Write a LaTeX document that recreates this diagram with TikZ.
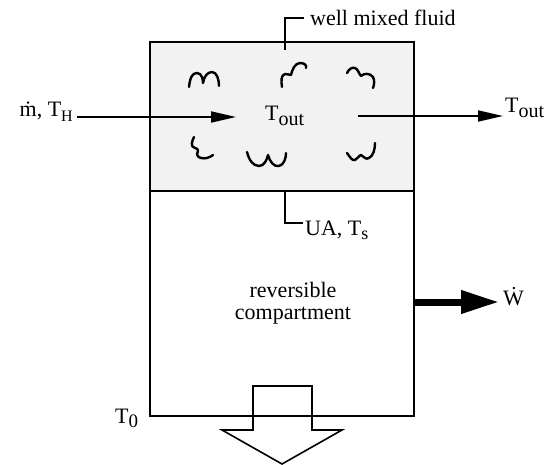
\documentclass[tikz,border=0pt]{standalone}
\usepackage{fontspec}
\setmainfont{Liberation Serif}
\usetikzlibrary{arrows.meta}
\newcommand\sbs[2][18]{\raisebox{-0.4ex}{\fontsize{#1}{#1}\selectfont #2}}
\definecolor{shade}{gray}{0.95}
\tikzset{
  lbl/.style={inner sep=0pt, font=\fontsize{22}{22}\selectfont},
  wall/.style={draw=black, line width=1.8pt},
  flow/.style={line width=1.8pt, -{Triangle[length=25pt,width=11pt]}},
  work/.style={line width=7pt, -{Triangle[length=38pt,width=22pt]}},
  lead/.style={line width=1.6pt},
  curl/.style={line width=2.4pt, line cap=round, line join=round},
  hollow/.style={draw=black, line width=1.6pt, line join=miter}
}
\begin{document}
\begin{tikzpicture}[x=1pt,y=-1pt]
\useasboundingbox (0,0) rectangle (548,465);
% compartments
\node[wall, fill=shade, inner sep=0pt, minimum width=264pt, minimum height=149pt, anchor=north west] (mix) at (149,41) {};
\node[wall, inner sep=0pt, minimum width=264pt, minimum height=225pt, anchor=north west] (rev) at (149,190) {};
% labels
\node[lbl, anchor=base west] (wm) at (310,25.5) {well mixed fluid};
\node[lbl, anchor=base east] (min) at (73,117) {ṁ, T\sbs[16]{H}};
\node[lbl, anchor=base west] (tin) at (265,121) {T\sbs[20]{out}};
\node[lbl, anchor=base west] (tout) at (505,113) {T\sbs[20]{out}};
\node[lbl, anchor=base west] (ua) at (305,235) {UA, T\sbs[18]{s}};
\node[lbl, align=center] (revl) at (293,303) {reversible\\compartment};
\node[lbl, anchor=base west] (wdot) at (503,305) {Ẇ};
\node[lbl, anchor=base west] (t0) at (115,423) {T\sbs[19]{0}};
% leaders
\coordinate (l1) at (285,50);
\coordinate (l1e) at (304,18);
\draw[lead] (l1) |- (l1e);
\coordinate (l2) at (285,190);
\coordinate (l2e) at (303,223);
\draw[lead] (l2) |- (l2e);
% flow arrows
\coordinate (inS) at (77,117);
\coordinate (inT) at (236,117);
\draw[flow] (inS) -- (inT);
\coordinate (outS) at (358,116);
\coordinate (outT) at (503,116);
\draw[flow] (outS) -- (outT);
\coordinate (wS) at (414,302);
\coordinate (wT) at (499,302);
\draw[work] (wS) -- (wT);
% heat rejection arrow
\draw[hollow] (253,386) -- (312,386) -- (312,430) -- (342,430) -- (282,464) -- (222,430) -- (253,430) -- cycle;
% curls
\draw[curl] (189,87) .. controls (190,78) and (192,73) .. (197,73) .. controls (202,73) and (203,80) .. (203,83) .. controls (204,77) and (207,72) .. (212,72) .. controls (217,72) and (219,80) .. (219,86);
\draw[curl] (282,87) .. controls (281,81) and (281,75) .. (285,74) .. controls (288,73) and (290,76) .. (291,75) .. controls (292,70) and (295,63) .. (300,63) .. controls (304,63) and (307,65) .. (306,68);
\draw[curl] (347,73) .. controls (349,69) and (352,67) .. (355,68) .. controls (358,69) and (359,74) .. (361,76) .. controls (364,73) and (370,73) .. (373,77) .. controls (375,81) and (374,85) .. (373,88);
\draw[curl] (194,137) .. controls (192,141) and (190,147) .. (195,148) .. controls (199,149) and (198,151) .. (197,154) .. controls (197,158) and (203,159) .. (207,158) .. controls (210,157) and (212,156) .. (213,155);
\draw[curl] (247,152) .. controls (249,160) and (253,166) .. (259,166) .. controls (264,166) and (267,160) .. (268,155) .. controls (270,162) and (274,167) .. (279,166) .. controls (284,165) and (286,158) .. (286,153);
\draw[curl] (347,153) .. controls (350,157) and (352,161) .. (355,160) .. controls (358,159) and (359,155) .. (361,155) .. controls (364,157) and (366,160) .. (369,158) .. controls (373,156) and (375,150) .. (375,143);
\end{tikzpicture}
\end{document}
